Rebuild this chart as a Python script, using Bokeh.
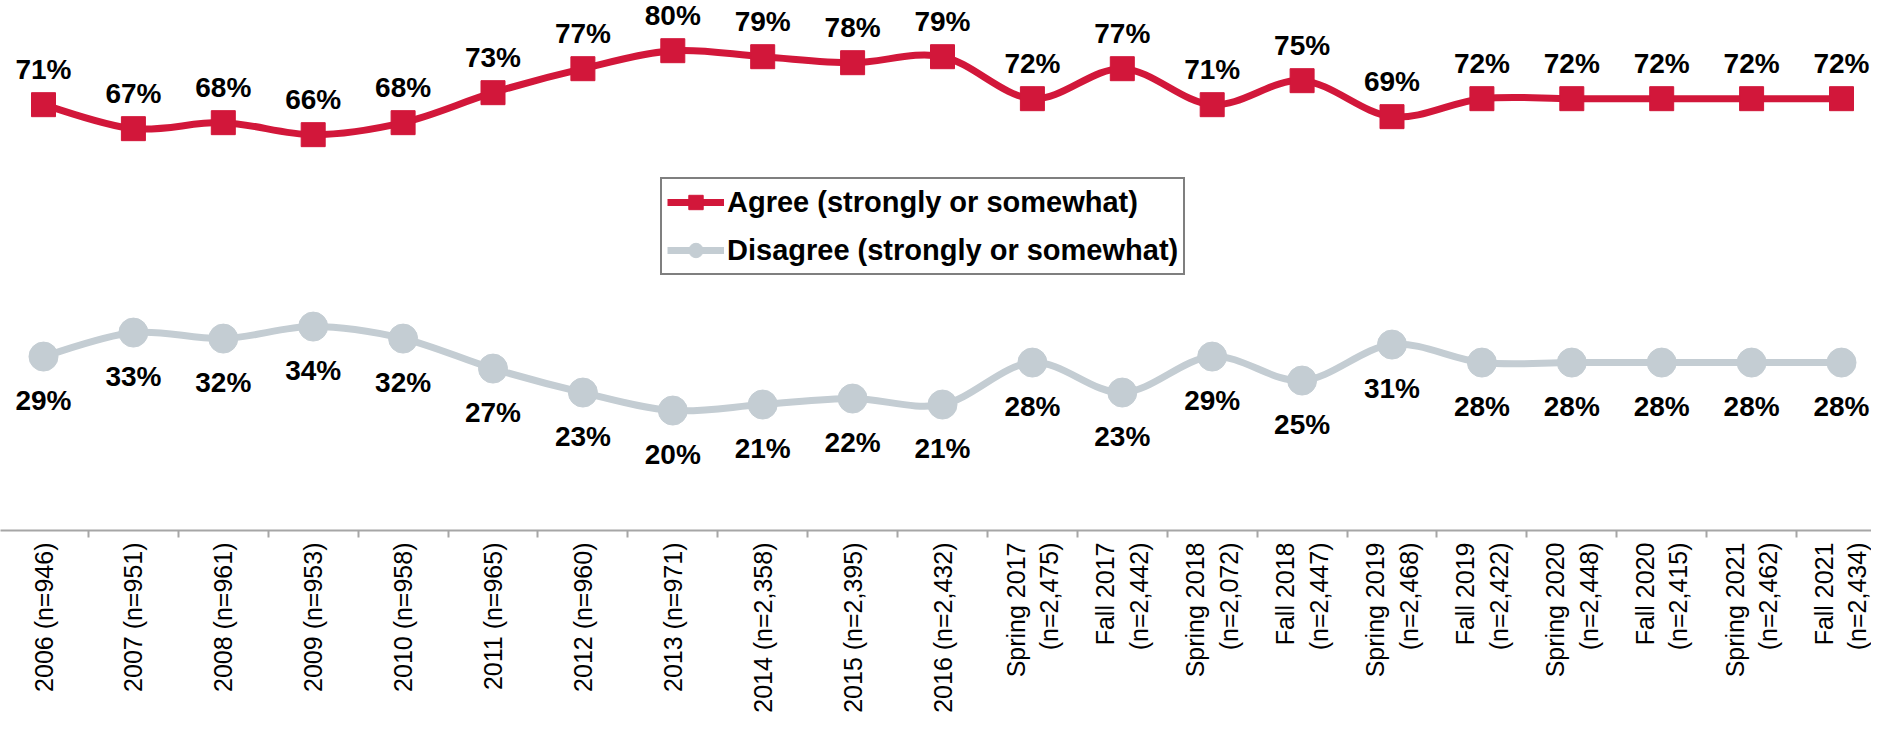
import math
from bokeh.plotting import figure
from bokeh.models import Range1d, FixedTicker, ColumnDataSource, Legend, LegendItem
from bokeh.core.properties import value
from bokeh.embed import file_html
from bokeh.resources import INLINE

categories = ["2006 (n=946)", "2007 (n=951)", "2008 (n=961)", "2009 (n=953)", "2010 (n=958)",
              "2011 (n=965)", "2012 (n=960)", "2013 (n=971)", "2014 (n=2,358)", "2015 (n=2,395)",
              "2016 (n=2,432)", "Spring 2017\n(n=2,475)", "Fall 2017\n(n=2,442)",
              "Spring 2018\n(n=2,072)", "Fall 2018\n(n=2,447)", "Spring 2019\n(n=2,468)",
              "Fall 2019\n(n=2,422)", "Spring 2020\n(n=2,448)", "Fall 2020\n(n=2,415)",
              "Spring 2021\n(n=2,462)", "Fall 2021\n(n=2,434)"]
agree = [71, 67, 68, 66, 68, 73, 77, 80, 79, 78, 79, 72, 77, 71, 75, 69, 72, 72, 72, 72, 72]
disagree = [29, 33, 32, 34, 32, 27, 23, 20, 21, 22, 21, 28, 23, 29, 25, 31, 28, 28, 28, 28, 28]

RED = "#D2173A"
GRAY = "#C4CDD3"
FONT = "Liberation Sans"

idx = list(range(len(categories)))

W = 1871
step = 89.9
x_start = -43.0 / step
x_end = x_start + W / step

p = figure(width=W, height=715, output_backend="svg", toolbar_location=None,
           x_range=Range1d(x_start, x_end), y_range=Range1d(0, 88.37),
           min_border_left=0, min_border_right=0, min_border_top=0, min_border_bottom=183)
p.outline_line_color = None
p.xgrid.visible = False
p.ygrid.visible = False
p.yaxis.visible = False

ax = p.xaxis[0]
ax.ticker = FixedTicker(ticks=idx, minor_ticks=[i + 0.5 for i in idx[:-1]])
ax.major_label_overrides = {i: c for i, c in enumerate(categories)}
ax.major_label_orientation = math.pi / 2
ax.major_label_text_font = FONT
ax.major_label_text_font_size = "25px"
ax.major_label_text_color = "black"
ax.major_tick_line_color = None
ax.major_tick_out = 0
ax.major_tick_in = 0
ax.minor_tick_line_color = "#A6A6A6"
ax.minor_tick_line_width = 2
ax.minor_tick_out = 7
ax.minor_tick_in = 0
ax.axis_line_color = "#A6A6A6"
ax.axis_line_width = 2
ax.major_label_standoff = 5


def bezier_source(ys):
    n = len(ys)
    x0, y0, x1, y1, cx0, cy0, cx1, cy1 = [], [], [], [], [], [], [], []
    for i in range(n - 1):
        im1 = max(i - 1, 0)
        ip2 = min(i + 2, n - 1)
        x0.append(idx[i]); y0.append(ys[i])
        x1.append(idx[i + 1]); y1.append(ys[i + 1])
        cx0.append(idx[i] + (idx[i + 1] - idx[im1]) / 6.0)
        cy0.append(ys[i] + (ys[i + 1] - ys[im1]) / 6.0)
        cx1.append(idx[i + 1] - (idx[ip2] - idx[i]) / 6.0)
        cy1.append(ys[i + 1] - (ys[ip2] - ys[i]) / 6.0)
    return ColumnDataSource(dict(x0=x0, y0=y0, x1=x1, y1=y1, cx0=cx0, cy0=cy0, cx1=cx1, cy1=cy1))


items = []
for ys, color, marker, size, label, yoff in [
    (agree, RED, "square", 24, "Agree (strongly or somewhat)", -35),
    (disagree, GRAY, "circle", 29, "Disagree (strongly or somewhat)", 44),
]:
    bz = p.bezier(x0="x0", y0="y0", x1="x1", y1="y1", cx0="cx0", cy0="cy0", cx1="cx1", cy1="cy1",
                  source=bezier_source(ys), line_color=color, line_width=7)
    src = ColumnDataSource(dict(x=idx, y=ys, t=[f"{v}%" for v in ys]))
    sc = p.scatter(x="x", y="y", source=src, marker=marker, size=size,
                   fill_color=color, line_color=color, line_width=1)
    p.text(x="x", y="y", text="t", source=src, text_font=value(FONT), text_font_style="bold",
           text_font_size="28px", text_color="black", text_align="center",
           text_baseline="middle", y_offset=yoff)
    items.append(LegendItem(label=label, renderers=[bz, sc]))

legend = Legend(items=items, location=(660, 255), orientation="vertical",
                border_line_color="black", border_line_width=2, background_fill_color="white",
                background_fill_alpha=1.0, padding=5, spacing=12, glyph_width=57, glyph_height=36,
                label_height=36, label_standoff=3, margin=0,
                label_text_font=FONT, label_text_font_style="bold", label_text_font_size="29px",
                label_text_color="black")
p.add_layout(legend, "center")

open("out.html", "w").write(file_html(p, INLINE))
